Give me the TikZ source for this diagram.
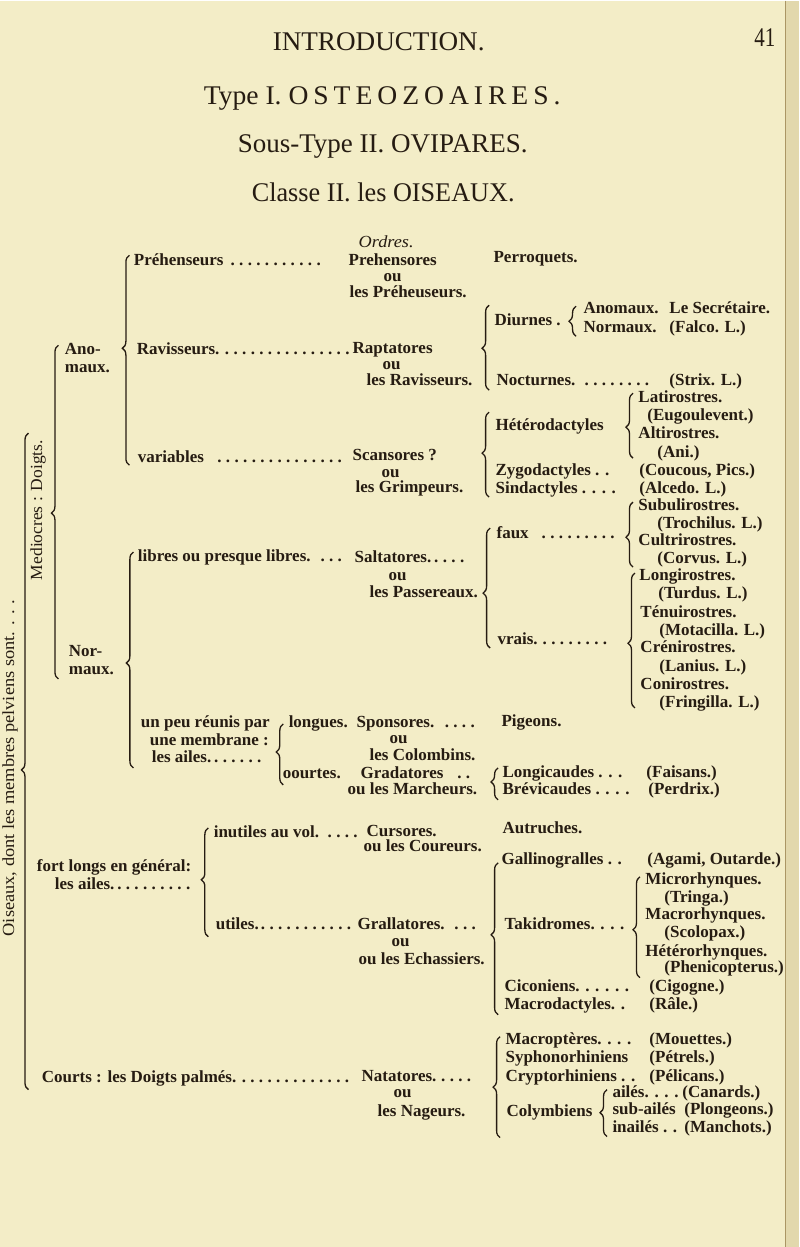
\documentclass[tikz,border=0pt]{standalone}
\usepackage{fontspec}
\setmainfont{Liberation Serif}
\usetikzlibrary{decorations.pathreplacing}
\definecolor{paper}{RGB}{243,237,199}
\definecolor{ink}{RGB}{38,28,18}
\definecolor{edgec}{RGB}{226,216,172}
\definecolor{edgeline}{RGB}{170,150,100}
\newcommand\dl[2]{\makebox[#1][l]{#2\leaders\hbox to 8.6pt{\hss.\hss}\hfill}}
\newcommand\fw[2]{\resizebox{#1}{\height}{#2}}
\newcommand\vb[4]{\draw[brc,decoration={aspect=#4}] (#1+3.5,#3) -- (#1+3.5,#2);}
\begin{document}
\begin{tikzpicture}[x=1pt,y=-1pt,
  tx/.style={anchor=base west,inner sep=0pt,outer sep=0pt,text=ink,font=\fontsize{17}{18}\selectfont\bfseries},
  txe/.style={tx,anchor=base east},
  ttl/.style={anchor=base,inner sep=0pt,text=ink,font=\fontsize{27}{28}\selectfont},
  rot/.style={inner sep=0pt,text=ink,rotate=90,font=\fontsize{17}{18}\selectfont},
  brc/.style={draw=ink,line width=1.3pt,decorate,decoration={brace,amplitude=7pt}}]
\fill[paper] (0,0) rectangle (800,1247);
\fill[edgec] (786,0) rectangle (800,1247);
\draw[edgeline,line width=1pt] (786,0) -- (786,1247);
\useasboundingbox (0,0) rectangle (800,1247);
% titles
\node[ttl] (intro) at (379,50) {\fw{212pt}{INTRODUCTION.}};
\node[ttl] (pg) at (765.5,46) {\fw{21pt}{41}};
\node[ttl] (type) at (382.5,104) {\fw{357pt}{Type I. {\addfontfeature{LetterSpace=18}OSTEOZOAIRES.}}};
\node[ttl] (stype) at (383,152) {\fw{290pt}{Sous-Type II. OVIPARES.}};
\node[ttl] (cls) at (383.5,201) {\fw{263pt}{Classe II. les OISEAUX.}};
\node[tx,font=\fontsize{17}{18}\selectfont\itshape] (ord) at (359,247) {\fw{55pt}{Ordres.}};
% rotated
\node[rot] (ois) at (10,768) {\fw{337pt}{Oiseaux, dont les membres pelviens sont. . . .}};
\node[rot] (medi) at (38,510) {\fw{140pt}{Mediocres : Doigts.}};
% left column
\node[tx] (ano1) at (65,354) {Ano-};
\node[tx] (ano2) at (65,372) {maux.};
\node[tx] (nor1) at (69,657) {Nor-};
\node[tx] (nor2) at (69,675) {maux.};
\node[tx] (prh) at (134,265) {\dl{192pt}{Préhenseurs}};
\node[tx] (rav) at (137,354) {\dl{215pt}{Ravisseurs.}};
\node[tx] (var) at (138,462) {\dl{214pt}{variables\ }};
\node[tx] (lib) at (138,561) {\dl{213pt}{libres ou presque libres.}};
\node[txe] (unp1) at (270,728) {un peu réunis par};
\node[txe] (unp2) at (269,746) {une membrane :};
\node[tx] (unp3) at (152,763) {\dl{113pt}{les ailes.}};
\node[tx] (lon) at (289,728) {longues.};
\node[tx] (cou) at (283,779) {oourtes.};
\node[tx] (inu) at (214,838) {\dl{148pt}{inutiles au vol.}};
\node[tx] (fort1) at (37,872) {fort longs en général:};
\node[tx] (fort2) at (55,890) {\dl{138pt}{les ailes.}};
\node[tx] (uti) at (216,930) {\dl{140pt}{utiles.}};
\node[tx] (crt) at (42,1083) {\dl{318pt}{Courts : les Doigts palmés.}};
% middle column
\node[tx] (m1a) at (349,265) {Prehensores};
\node[tx] (m1b) at (384,281) {ou};
\node[tx] (m1c) at (350,297) {les Préheuseurs.};
\node[tx] (perr) at (494,262) {Perroquets.};
\node[tx] (m2a) at (353,353) {Raptatores};
\node[tx] (m2b) at (383,369) {ou};
\node[tx] (m2c) at (367,385) {les Ravisseurs.};
\node[tx] (m3a) at (353,460) {Scansores ?};
\node[tx] (m3b) at (382,477) {ou};
\node[tx] (m3c) at (356,492) {les Grimpeurs.};
\node[tx] (m4a) at (355,562) {\dl{112pt}{Saltatores.}};
\node[tx] (m4b) at (389,580) {ou};
\node[tx] (m4c) at (370,597) {les Passereaux.};
\node[tx] (m5a) at (357,728) {\dl{121pt}{Sponsores.}};
\node[tx] (m5b) at (390,744) {ou};
\node[tx] (m5c) at (370,761) {les Colombins.};
\node[tx] (m6a) at (361,779) {\dl{117pt}{Gradatores\ }};
\node[tx] (m6b) at (348,795) {ou les Marcheurs.};
\node[tx] (m7a) at (367,837) {Cursores.};
\node[tx] (m7b) at (364,852) {ou les Coureurs.};
\node[tx] (m8a) at (358,930) {\dl{122pt}{Grallatores.}};
\node[tx] (m8b) at (392,947) {ou};
\node[tx] (m8c) at (359,965) {ou les Echassiers.};
\node[tx] (m9a) at (362,1082) {\dl{120pt}{Natatores.}};
\node[tx] (m9b) at (394,1098) {ou};
\node[tx] (m9c) at (378,1117) {les Nageurs.};
% right column
\node[tx] (diu) at (495,325) {Diurnes .};
\node[tx] (anm) at (584,313) {Anomaux.};
\node[tx] (sec) at (670,313) {Le Secrétaire.};
\node[tx] (nrm) at (584,332) {Normaux.};
\node[tx] (fal) at (670,332) {(Falco. L.)};
\node[tx] (noc) at (497,385) {\dl{163pt}{Nocturnes.}};
\node[tx] (str) at (670,385) {(Strix. L.)};
\node[tx] (het) at (496,430) {Hétérodactyles};
\node[tx] (lat) at (639,402) {Latirostres.};
\node[tx] (eug) at (648,420) {(Eugoulevent.)};
\node[tx] (alt) at (639,438) {Altirostres.};
\node[tx] (ani) at (658,457) {(Ani.)};
\node[tx] (zyg) at (496,475) {Zygodactyles . .};
\node[tx] (cpc) at (640,475) {(Coucous, Pics.)};
\node[tx] (sin) at (496,493) {Sindactyles . . . .};
\node[tx] (alc) at (640,493) {(Alcedo. L.)};
\node[tx] (faux) at (497,538) {\dl{123pt}{faux\ }};
\node[tx] (sub) at (639,510) {Subulirostres.};
\node[tx] (tro) at (658,528) {(Trochilus. L.)};
\node[tx] (cul) at (639,545) {Cultrirostres.};
\node[tx] (cor) at (658,563) {(Corvus. L.)};
\node[tx] (lgr) at (640,580) {Longirostres.};
\node[tx] (tur) at (659,598) {(Turdus. L.)};
\node[tx] (ten) at (641,617) {Ténuirostres.};
\node[tx] (mot) at (660,635) {(Motacilla. L.)};
\node[tx] (cre) at (641,653) {Crénirostres.};
\node[tx] (lan) at (660,672) {(Lanius. L.)};
\node[tx] (con) at (641,690) {Conirostres.};
\node[tx] (fri) at (660,708) {(Fringilla. L.)};
\node[tx] (vrai) at (498,645) {\dl{120pt}{vrais.}};
\node[tx] (pig) at (502,727) {Pigeons.};
\node[tx] (lgc) at (503,778) {Longicaudes . . .};
\node[tx] (fai) at (647,778) {(Faisans.)};
\node[tx] (brv) at (503,795) {Brévicaudes . . . .};
\node[tx] (per) at (649,795) {(Perdrix.)};
\node[tx] (aut) at (503,834) {Autruches.};
\node[tx] (gal) at (502,865) {Gallinogralles . .};
\node[tx] (aga) at (648,865) {(Agami, Outarde.)};
\node[tx] (mic) at (646,885) {Microrhynques.};
\node[tx] (tri) at (665,903) {(Tringa.)};
\node[tx] (mac) at (646,920) {Macrorhynques.};
\node[tx] (sco) at (665,938) {(Scolopax.)};
\node[tx] (hrh) at (646,957) {Hétérorhynques.};
\node[tx] (phe) at (665,973) {(Phenicopterus.)};
\node[tx] (tak) at (505,930) {Takidromes. . . .};
\node[tx] (cic) at (505,992) {Ciconiens. . . . . .};
\node[tx] (cig) at (650,992) {(Cigogne.)};
\node[tx] (mcd) at (505,1010) {Macrodactyles. .};
\node[tx] (ral) at (650,1010) {(Râle.)};
\node[tx] (mpt) at (506,1045) {Macroptères. . . .};
\node[tx] (mou) at (650,1045) {(Mouettes.)};
\node[tx] (syp) at (506,1063) {Syphonorhiniens};
\node[tx] (pet) at (650,1063) {(Pétrels.)};
\node[tx] (cry) at (506,1082) {Cryptorhiniens . .};
\node[tx] (pel) at (650,1082) {(Pélicans.)};
\node[tx] (col) at (507,1117) {Colymbiens};
\node[tx] (ail) at (613,1098) {ailés. . . .};
\node[tx] (can) at (683,1098) {(Canards.)};
\node[tx] (sai) at (613,1115) {sub-ailés};
\node[tx] (plo) at (685,1115) {(Plongeons.)};
\node[tx] (ina) at (613,1133) {inailés . .};
\node[tx] (man) at (685,1133) {(Manchots.)};
% braces: x, top, bottom, aspect
\vb{25}{433}{1090}{0.487}
\vb{55}{345}{679}{0.497}
\vb{126}{255}{465}{0.557}
\vb{130}{552}{768}{0.486}
\vb{280}{724}{785}{0.54}
\vb{205}{828}{937}{0.523}
\vb{486}{305}{390}{0.494}
\vb{573}{306}{336}{0.5}
\vb{486}{412}{497}{0.518}
\vb{630}{393}{458}{0.477}
\vb{487}{528}{648}{0.458}
\vb{630}{502}{567}{0.46}
\vb{632}{573}{708}{0.48}
\vb{495}{768}{800}{0.56}
\vb{495}{863}{1015}{0.526}
\vb{637}{877}{978}{0.475}
\vb{497}{1037}{1138}{0.5}
\vb{604}{1090}{1137}{0.51}
\end{tikzpicture}
\end{document}
